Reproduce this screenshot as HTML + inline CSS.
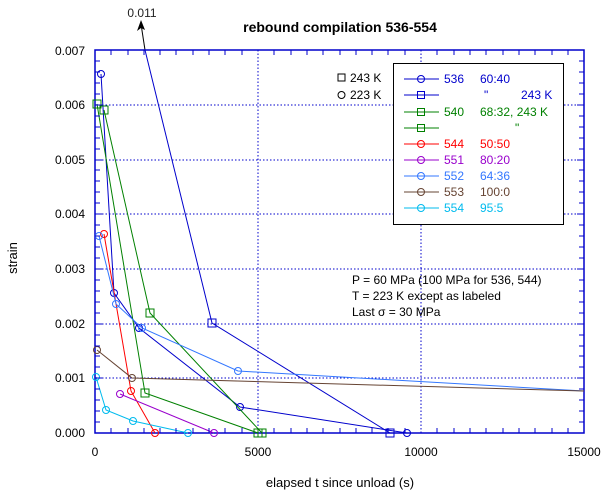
<!DOCTYPE html>
<html><head><meta charset="utf-8"><style>
body{margin:0;background:#fff}
svg{display:block;font-family:"Liberation Sans",sans-serif}
</style></head><body>
<svg width="609" height="494" viewBox="0 0 609 494">
<rect width="609" height="494" fill="#fff"/>
<text x="340" y="32" font-size="14" font-weight="bold" text-anchor="middle">rebound compilation 536-554</text>
<text x="142" y="17" font-size="12" text-anchor="middle" fill="#222">0.011</text>
<path d="M145,50 L141,24" stroke="#000" stroke-width="1"/>
<path d="M141,20 L137,31 L141,28 L145,30 Z" fill="#000"/>
<!-- grid -->
<g stroke="#0000cc" stroke-width="1" stroke-dasharray="1.5,2">
<line x1="258" y1="50" x2="258" y2="433"/><line x1="421" y1="50" x2="421" y2="433"/>
<line x1="95" y1="378" x2="584" y2="378"/><line x1="95" y1="324" x2="584" y2="324"/>
<line x1="95" y1="269" x2="584" y2="269"/><line x1="95" y1="214" x2="584" y2="214"/>
<line x1="95" y1="160" x2="584" y2="160"/><line x1="95" y1="105" x2="584" y2="105"/>
</g>
<g id="ticks" stroke="#0000cc" stroke-width="1"></g>
<rect x="95" y="50" width="489" height="383" fill="none" stroke="#0000cc" stroke-width="1.5"/>
<!-- labels -->
<g font-size="12" text-anchor="end" fill="#000">
<text x="85" y="437">0.000</text><text x="85" y="382">0.001</text><text x="85" y="328">0.002</text>
<text x="85" y="273">0.003</text><text x="85" y="218">0.004</text><text x="85" y="164">0.005</text>
<text x="85" y="109">0.006</text><text x="85" y="55">0.007</text>
</g>
<g font-size="12" text-anchor="middle">
<text x="95" y="456">0</text><text x="258" y="456">5000</text><text x="421" y="456">10000</text><text x="584" y="456">15000</text>
</g>
<text x="340" y="487" font-size="13" text-anchor="middle">elapsed t since unload (s)</text>
<text transform="translate(17,258) rotate(-90)" font-size="13" text-anchor="middle">strain</text>
<!-- annotations -->
<g font-size="12" fill="#000">
<text x="352" y="284">P = 60 MPa (100 MPa for 536, 544)</text>
<text x="352" y="300">T = 223 K except as labeled</text>
<text x="352" y="316">Last σ = 30 MPa</text>
<rect x="338" y="74" width="7" height="7" fill="none" stroke="#000"/><text x="350" y="82">243 K</text>
<circle cx="341.5" cy="95" r="3.5" fill="none" stroke="#000"/><text x="350" y="99">223 K</text>
</g>
<!-- series -->
<g fill="none" stroke-width="1">
<polyline stroke="#0000cc" points="145,50 212,323 390,433"/>
<rect x="208" y="319" width="8" height="8" stroke="#0000cc"/><rect x="386" y="429" width="8" height="8" stroke="#0000cc"/>
<polyline stroke="#0000cc" points="101,74 114,293 139,328 240,407 407,433"/>
<circle cx="101" cy="74" r="3.5" stroke="#0000cc"/><circle cx="114" cy="293" r="3.5" stroke="#0000cc"/><circle cx="139" cy="328" r="3.5" stroke="#0000cc"/><circle cx="240" cy="407" r="3.5" stroke="#0000cc"/><circle cx="407" cy="433" r="3.5" stroke="#0000cc"/>
<polyline stroke="#008000" points="97,104 145,393 258,433"/>
<polyline stroke="#008000" points="104,110 150,313 262,433"/>
<rect x="93" y="100" width="8" height="8" stroke="#008000"/><rect x="100" y="106" width="8" height="8" stroke="#008000"/><rect x="146" y="309" width="8" height="8" stroke="#008000"/><rect x="141" y="389" width="8" height="8" stroke="#008000"/><rect x="254" y="429" width="8" height="8" stroke="#008000"/><rect x="258" y="429" width="8" height="8" stroke="#008000"/>
<polyline stroke="#ff0000" points="104,234 131,391 155,433"/>
<circle cx="104" cy="234" r="3.5" stroke="#ff0000"/><circle cx="131" cy="391" r="3.5" stroke="#ff0000"/><circle cx="155" cy="433" r="3.5" stroke="#ff0000"/>
<polyline stroke="#9900cc" points="120,394 214,433"/>
<circle cx="120" cy="394" r="3.5" stroke="#9900cc"/><circle cx="214" cy="433" r="3.5" stroke="#9900cc"/>
<polyline stroke="#3377ff" points="99,236 116,304 142,328 238,371 584,391"/>
<circle cx="99" cy="236" r="3.5" stroke="#3377ff"/><circle cx="116" cy="304" r="3.5" stroke="#3377ff"/><circle cx="142" cy="328" r="3.5" stroke="#3377ff"/><circle cx="238" cy="371" r="3.5" stroke="#3377ff"/>
<polyline stroke="#664433" points="97,350 132,378 584,391"/>
<circle cx="97" cy="350" r="3.5" stroke="#664433"/><circle cx="132" cy="378" r="3.5" stroke="#664433"/>
<polyline stroke="#00bbee" points="96,377 106,410 133,421 188,433"/>
<circle cx="96" cy="377" r="3.5" stroke="#00bbee"/><circle cx="106" cy="410" r="3.5" stroke="#00bbee"/><circle cx="133" cy="421" r="3.5" stroke="#00bbee"/><circle cx="188" cy="433" r="3.5" stroke="#00bbee"/>
</g>
<!-- legend -->
<rect x="393.5" y="63.5" width="170" height="161" fill="#fff" stroke="#000" stroke-width="1"/>
<g font-size="12" fill="none">
<line x1="404" y1="79" x2="439" y2="79" stroke="#0000cc"/><circle cx="421" cy="79" r="3.5" stroke="#0000cc"/>
<line x1="404" y1="95" x2="439" y2="95" stroke="#0000cc"/><rect x="417.5" y="91.5" width="7" height="7" stroke="#0000cc"/>
<line x1="404" y1="112" x2="439" y2="112" stroke="#008000"/><rect x="417.5" y="108.5" width="7" height="7" stroke="#008000"/>
<line x1="404" y1="128" x2="439" y2="128" stroke="#008000"/><rect x="417.5" y="124.5" width="7" height="7" stroke="#008000"/>
<line x1="404" y1="144" x2="439" y2="144" stroke="#ff0000"/><circle cx="421" cy="144" r="3.5" stroke="#ff0000"/>
<line x1="404" y1="160" x2="439" y2="160" stroke="#9900cc"/><circle cx="421" cy="160" r="3.5" stroke="#9900cc"/>
<line x1="404" y1="176" x2="439" y2="176" stroke="#3377ff"/><circle cx="421" cy="176" r="3.5" stroke="#3377ff"/>
<line x1="404" y1="192" x2="439" y2="192" stroke="#664433"/><circle cx="421" cy="192" r="3.5" stroke="#664433"/>
<line x1="404" y1="208" x2="439" y2="208" stroke="#00bbee"/><circle cx="421" cy="208" r="3.5" stroke="#00bbee"/>
</g>
<g font-size="12">
<text x="444" y="83" fill="#0000cc">536</text><text x="480" y="83" fill="#0000cc">60:40</text>
<text x="484" y="99" fill="#0000cc">"</text><text x="521" y="99" fill="#0000cc">243 K</text>
<text x="444" y="116" fill="#008000">540</text><text x="480" y="116" fill="#008000">68:32, 243 K</text>
<text x="515" y="132" fill="#008000">"</text>
<text x="444" y="148" fill="#ff0000">544</text><text x="480" y="148" fill="#ff0000">50:50</text>
<text x="444" y="164" fill="#9900cc">551</text><text x="480" y="164" fill="#9900cc">80:20</text>
<text x="444" y="180" fill="#3377ff">552</text><text x="480" y="180" fill="#3377ff">64:36</text>
<text x="444" y="196" fill="#664433">553</text><text x="480" y="196" fill="#664433">100:0</text>
<text x="444" y="212" fill="#00bbee">554</text><text x="480" y="212" fill="#00bbee">95:5</text>
</g>
<g stroke="#0000cc" stroke-width="1">
<path d="M95,50h0"/>
<!-- y minor ticks every 0.0002 (10.94px) -->
<path d="M95,422h5M95,411h5M95,400h5M95,389h5M95,378h7M95,367h5M95,356h5M95,346h5M95,335h5M95,324h7M95,313h5M95,302h5M95,291h5M95,280h5M95,269h7M95,258h5M95,247h5M95,236h5M95,225h5M95,214h7M95,203h5M95,192h5M95,181h5M95,170h5M95,160h7M95,149h5M95,138h5M95,127h5M95,116h5M95,105h7M95,94h5M95,83h5M95,72h5M95,61h5"/>
<path d="M584,422h-5M584,411h-5M584,400h-5M584,389h-5M584,378h-7M584,367h-5M584,356h-5M584,346h-5M584,335h-5M584,324h-7M584,313h-5M584,302h-5M584,291h-5M584,280h-5M584,269h-7M584,258h-5M584,247h-5M584,236h-5M584,225h-5M584,214h-7M584,203h-5M584,192h-5M584,181h-5M584,170h-5M584,160h-7M584,149h-5M584,138h-5M584,127h-5M584,116h-5M584,105h-7M584,94h-5M584,83h-5M584,72h-5M584,61h-5"/>
<path d="M111,433v-5M128,433v-5M144,433v-5M160,433v-5M176,433v-5M193,433v-5M209,433v-5M225,433v-5M242,433v-5M274,433v-5M291,433v-5M307,433v-5M323,433v-5M340,433v-5M356,433v-5M372,433v-5M388,433v-5M405,433v-5M437,433v-5M454,433v-5M470,433v-5M486,433v-5M503,433v-5M519,433v-5M535,433v-5M552,433v-5M568,433v-5"/>
<path d="M111,50v5M128,50v5M144,50v5M160,50v5M176,50v5M193,50v5M209,50v5M225,50v5M242,50v5M274,50v5M291,50v5M307,50v5M323,50v5M340,50v5M356,50v5M372,50v5M388,50v5M405,50v5M437,50v5M454,50v5M470,50v5M486,50v5M503,50v5M519,50v5M535,50v5M552,50v5M568,50v5"/>
</g>
</svg>
</body></html>
